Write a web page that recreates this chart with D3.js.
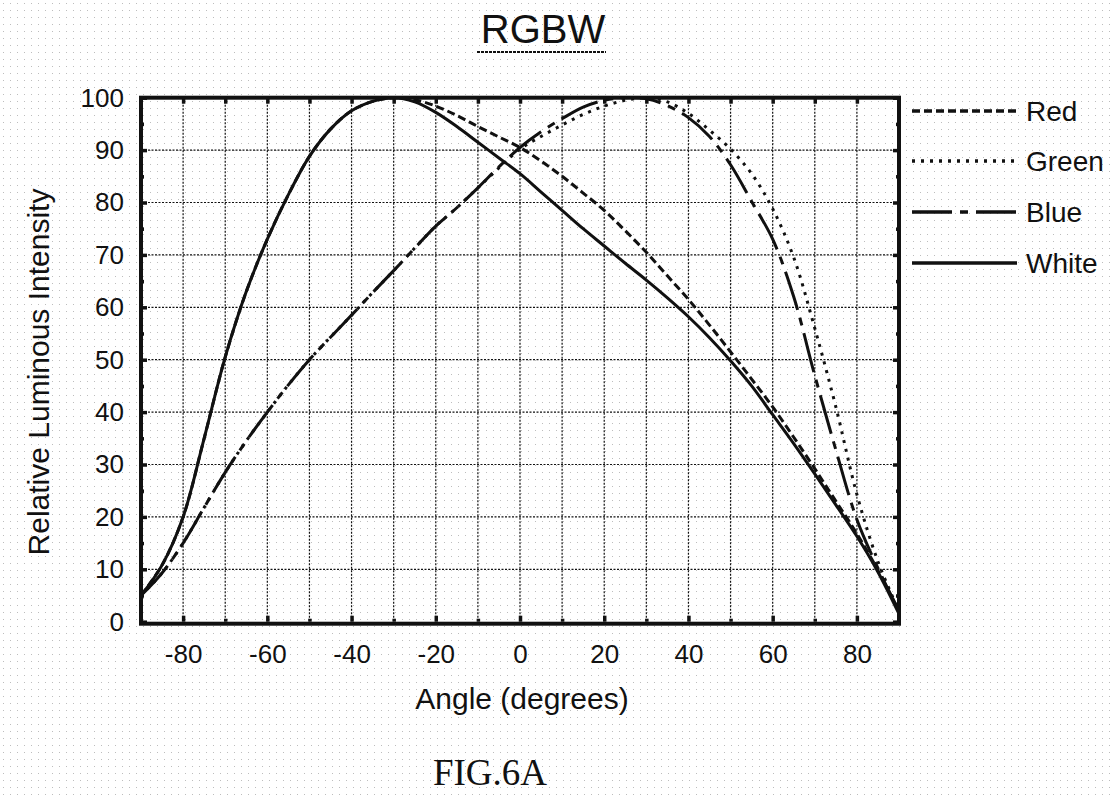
<!DOCTYPE html>
<html>
<head>
<meta charset="utf-8">
<script src="https://cdn.jsdelivr.net/npm/d3@7"></script>
<style>
  body { margin: 0; background: #fff; }
  svg { display: block; }
  text { font-family: "Liberation Sans", Arial, sans-serif; fill: #111; }
</style>
</head>
<body>
<svg id="chart" width="1110" height="795"></svg>
<script>
(function() {

  // ---------------------------BEGIN: data---------------------------//
  var angles = [-90,-85,-80,-75,-70,-65,-60,-55,-50,-45,-40,-35,-30,-25,-20,-15,-10,-5,0,
                5,10,15,20,25,30,35,40,45,50,55,60,65,70,75,80,85,90];

  var red   = [5,10.8,20,35,50.5,63,73,81.5,88.8,94,97.5,99.3,100,99.6,98.4,96.6,94.5,92.5,90.5,
               87.9,85,81.8,78.5,74.6,70.5,66,61.5,56.6,51.5,46.3,41,35.2,29.2,23,16.8,9.8,2];
  var green = [5,9.3,15,21.8,28.5,34.5,40,45.2,50,54.3,58.5,62.8,67,71.3,75.5,79,82.8,86.6,90.2,
               92.6,94.8,96.8,98.4,99.5,100,99.2,97,93.8,90.2,85.5,78.8,69.5,56,41,24.3,11.5,2];
  var blue  = [5,9.3,15,21.8,28.5,34.5,40,45.2,50,54.3,58.5,62.8,67,71.3,75.5,79,82.8,86.8,90.5,
               93.5,96,98.2,99.5,100,99.8,98.5,96.2,92.6,87.2,80.2,73,62,47,32.8,19.5,10.2,2];
  var white = [5,10.8,20,35,50.5,63,73,81.5,88.8,94,97.5,99.3,100,99.2,97.2,94.5,91.5,88.5,85.5,
               82,78.5,75,71.7,68.4,65.2,61.8,58.2,54.2,49.8,45,39.5,34,28.2,22.3,16.3,9.5,1.5];

  var seriesNames = ["Red", "Green", "Blue", "White"];
  var seriesData  = [red, green, blue, white];
  var dashes      = ["8,4", "3,6", "40,8,8,8", null];

  var xTickValues = [-80,-60,-40,-20,0,20,40,60,80];
  var xGridValues = [-80,-70,-60,-50,-40,-30,-20,-10,0,10,20,30,40,50,60,70,80];
  var yTickValues = [0,10,20,30,40,50,60,70,80,90,100];
  var yMinorValues = [5,15,25,35,45,55,65,75,85,95];
  // ---------------------------END: data---------------------------//

  var svg = d3.select("#chart");

  // scanned-paper dot texture
  var defs = svg.append("defs");
  defs.append("pattern")
      .attr("id", "dots").attr("width", 7).attr("height", 7)
      .attr("patternUnits", "userSpaceOnUse")
    .append("rect").attr("x", 3).attr("y", 3).attr("width", 1).attr("height", 1)
      .attr("fill", "#bdbdbd");
  svg.append("rect").attr("width", 1110).attr("height", 795).attr("fill", "url(#dots)");

  var x = d3.scaleLinear().domain([-90, 90]).range([141, 899]);
  var y = d3.scaleLinear().domain([0, 100]).range([621.7, 97.7]);

  // grid
  var grid = svg.append("g").attr("stroke", "#111").attr("stroke-width", 1.2)
      .attr("stroke-dasharray", "2,1.5");
  grid.selectAll(".vg").data(xGridValues).enter().append("line")
      .attr("x1", function(d){ return x(d); }).attr("x2", function(d){ return x(d); })
      .attr("y1", y(100)).attr("y2", y(0));
  grid.selectAll(".hg").data(yTickValues.slice(1, -1)).enter().append("line")
      .attr("y1", function(d){ return y(d); }).attr("y2", function(d){ return y(d); })
      .attr("x1", x(-90)).attr("x2", x(90));

  // curves
  var line = d3.line()
      .x(function(d){ return x(d[0]); })
      .y(function(d){ return y(d[1]); })
      .curve(d3.curveCatmullRom.alpha(0.5));

  var clip = defs.append("clipPath").attr("id", "plotclip");
  clip.append("rect").attr("x", x(-90)).attr("y", y(100) - 4)
      .attr("width", x(90) - x(-90)).attr("height", y(0) - y(100) + 4);

  var curves = svg.append("g").attr("clip-path", "url(#plotclip)");
  seriesData.forEach(function(vals, i) {
    var pts = angles.map(function(a, j){ return [a, vals[j]]; });
    curves.append("path")
        .datum(pts)
        .attr("d", line)
        .attr("fill", "none")
        .attr("stroke", "#111")
        .attr("stroke-width", 3)
        .attr("stroke-dasharray", dashes[i]);
  });

  // axes (inward ticks)
  function styleAxis(g) {
    g.select(".domain").remove();
    g.selectAll(".tick line").attr("stroke", "#111").attr("stroke-width", 3.5);
  }
  var plain = function(d){ return String(d); };

  svg.append("g").attr("transform", "translate(0," + y(0) + ")")
      .call(d3.axisBottom(x).tickValues(xTickValues).tickFormat(plain)
            .tickSizeInner(-6).tickSizeOuter(0).tickPadding(22))
      .call(styleAxis)
      .selectAll("text").attr("font-size", 26).attr("dy", "0.75em");
  svg.append("g").attr("transform", "translate(0," + y(0) + ")")
      .call(d3.axisBottom(x).tickValues(xGridValues.filter(function(d){ return d % 20 !== 0; }))
            .tickSizeInner(-3).tickSizeOuter(0).tickFormat(""))
      .call(styleAxis);
  svg.append("g").attr("transform", "translate(0," + y(100) + ")")
      .call(d3.axisTop(x).tickValues(xGridValues).tickSizeInner(-6).tickSizeOuter(0).tickFormat(""))
      .call(styleAxis);

  svg.append("g").attr("transform", "translate(" + x(-90) + ",0)")
      .call(d3.axisLeft(y).tickValues(yTickValues).tickFormat(plain)
            .tickSizeInner(-6).tickSizeOuter(0).tickPadding(17))
      .call(styleAxis)
      .selectAll("text").attr("font-size", 26);
  svg.append("g").attr("transform", "translate(" + x(-90) + ",0)")
      .call(d3.axisLeft(y).tickValues(yMinorValues).tickSizeInner(-3).tickSizeOuter(0).tickFormat(""))
      .call(styleAxis);
  svg.append("g").attr("transform", "translate(" + x(90) + ",0)")
      .call(d3.axisRight(y).tickValues(yTickValues).tickSizeInner(-6).tickSizeOuter(0).tickFormat(""))
      .call(styleAxis);
  svg.append("g").attr("transform", "translate(" + x(90) + ",0)")
      .call(d3.axisRight(y).tickValues(yMinorValues).tickSizeInner(-3).tickSizeOuter(0).tickFormat(""))
      .call(styleAxis);

  // frame
  svg.append("rect")
      .attr("x", x(-90)).attr("y", y(100))
      .attr("width", x(90) - x(-90)).attr("height", y(0) - y(100) + 2)
      .attr("fill", "none").attr("stroke", "#111").attr("stroke-width", 4);

  // titles
  svg.append("text").attr("x", 543).attr("y", 43).attr("text-anchor", "middle")
      .attr("font-size", 40).text("RGBW");
  svg.append("line").attr("x1", 477).attr("x2", 606).attr("y1", 52).attr("y2", 52)
      .attr("stroke", "#111").attr("stroke-width", 2).attr("stroke-dasharray", "3,1");

  svg.append("text").attr("x", 522).attr("y", 709).attr("text-anchor", "middle")
      .attr("font-size", 30).text("Angle (degrees)");

  svg.append("text").attr("transform", "translate(49,372) rotate(-90)")
      .attr("text-anchor", "middle").attr("font-size", 30)
      .text("Relative Luminous Intensity");

  svg.append("text").attr("x", 490).attr("y", 785).attr("text-anchor", "middle")
      .style("font-family", "'Liberation Serif', 'Times New Roman', serif")
      .attr("font-size", 37).text("FIG.6A");

  // legend
  var legendY = [111, 161, 212, 263];
  var legend = svg.append("g");
  seriesNames.forEach(function(name, i) {
    legend.append("line")
        .attr("x1", 912).attr("x2", 1017)
        .attr("y1", legendY[i]).attr("y2", legendY[i])
        .attr("stroke", "#111").attr("stroke-width", 3.5)
        .attr("stroke-dasharray", dashes[i]);
    legend.append("text")
        .attr("x", 1026).attr("y", legendY[i]).attr("dy", "0.36em")
        .attr("font-size", 28).text(name);
  });

}());
</script>
</body>
</html>
